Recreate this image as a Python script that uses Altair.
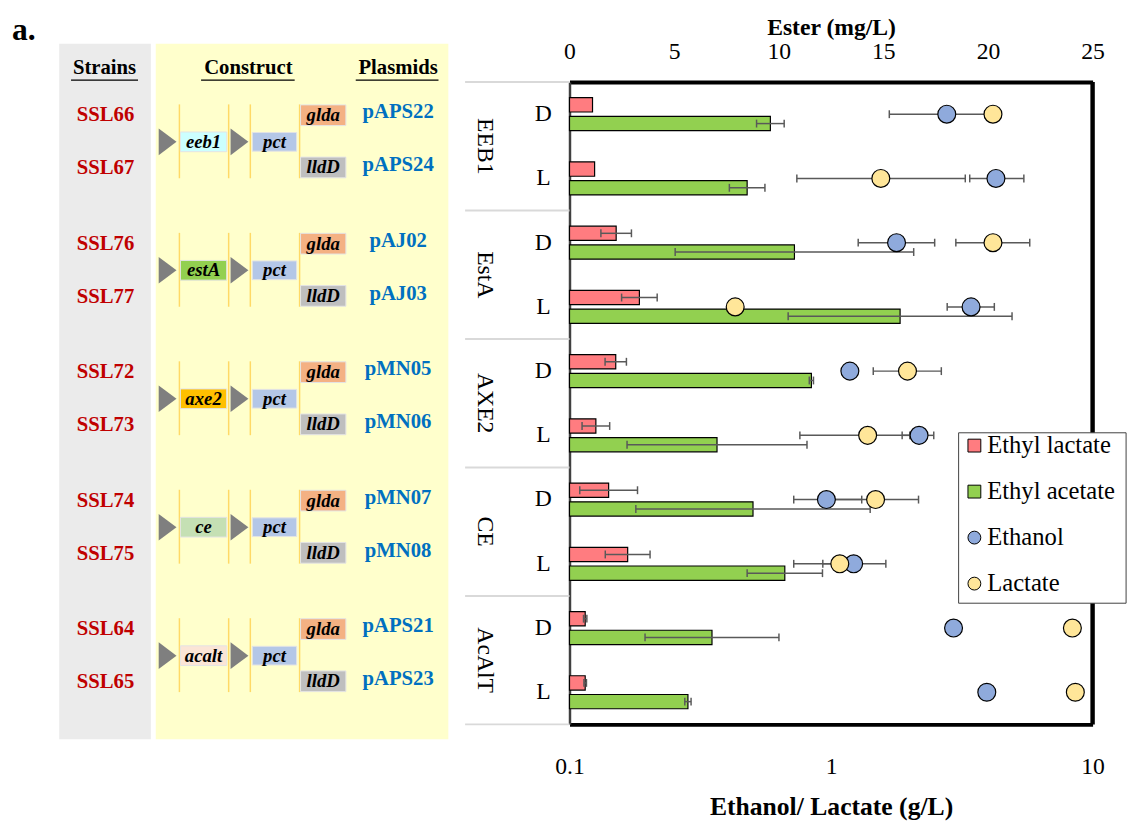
import altair as alt
import pandas as pd

# ---------------- data ----------------
groups = ["EEB1", "EstA", "AXE2", "CE", "AcAlT"]
isomers = ["D", "L"]
strains = ["SSL66", "SSL67", "SSL76", "SSL77", "SSL72", "SSL73", "SSL74", "SSL75", "SSL64", "SSL65"]
plasmids = ["pAPS22", "pAPS24", "pAJ02", "pAJ03", "pMN05", "pMN06", "pMN07", "pMN08", "pAPS21", "pAPS23"]
genes = ["eeb1", "estA", "axe2", "ce", "acalt"]
branch_genes = ["glda", "lldD"]
headers = ["Strains", "Construct", "Plasmids"]
ester_ticks = [0, 5, 10, 15, 20, 25]
conc_ticks = [0.1, 1, 10]
series = ["Ethyl lactate", "Ethyl acetate", "Ethanol", "Lactate"]

# ester (mg/L), order: EEB1 D, EEB1 L, EstA D, EstA L, AXE2 D, AXE2 L, CE D, CE L, AcAlT D, AcAlT L
ethyl_lactate = [1.1, 1.2, 2.23, 3.34, 2.21, 1.26, 1.87, 2.78, 0.75, 0.75]
ethyl_lactate_err = [0, 0, 0.73, 0.85, 0.51, 0.66, 1.38, 1.07, 0.08, 0.06]
ethyl_acetate = [9.6, 8.49, 10.75, 15.8, 11.56, 7.05, 8.77, 10.29, 6.81, 5.66]
ethyl_acetate_err = [0.66, 0.85, 5.7, 5.35, 0.1, 4.3, 5.6, 1.8, 3.2, 0.15]
# ethanol / lactate (g/L)
ethanol = [2.77, 4.27, 1.78, 3.43, 1.18, 2.17, 0.96, 1.22, 2.94, 3.94]
ethanol_lo = [1.67, 3.39, 1.27, 2.78, None, 1.87, 0.72, 0.93, None, None]
ethanol_hi = [3.87, 5.46, 2.49, 4.21, None, 2.47, 1.31, 1.62, None, None]
lactate = [4.16, 1.55, 4.16, 0.43, 1.96, 1.38, 1.48, 1.08, 8.37, 8.59]
lactate_lo = [None, 0.74, 3.00, None, 1.45, 0.76, 0.90, 0.72, None, None]
lactate_hi = [None, 3.26, 5.75, None, 2.64, 2.00, 2.16, 1.30, None, None]

# ---------------- styles ----------------
FONT = "Liberation Serif"
series_colors = ["#FF7C80", "#92D050", "#8FAADC", "#FFE699"]
series_shapes = ["square", "square", "circle", "circle"]
gene_colors = ["#CCFFFF", "#92D050", "#FFC000", "#C5E0B4", "#FBE5D6"]
branch_colors = ["#F4B183", "#BFBFBF"]
ERR = "#595959"
H = 652
W_RIGHT = 531
W_LEFT = 443
ROW = H / 10.0

rows = [f"{g} {i}" for g in groups for i in isomers]

# ---------------- right chart ----------------
y_axis = alt.Axis(title=None, labelExpr="split(datum.label, ' ')[1]", labelFont=FONT,
                  labelFontSize=24, labelColor="black", labelAlign="center",
                  labelBaseline="middle", labelPadding=27, ticks=False, grid=False,
                  domainColor="#404040", domainWidth=2.5)
y_scale = alt.Scale(domain=rows, paddingInner=0, paddingOuter=0)


def y_enc(band=None):
    if band is None:
        return alt.Y("row:N", scale=y_scale, axis=y_axis)
    return alt.Y("row:N", scale=y_scale, axis=y_axis, bandPosition=band)


ester_scale = alt.Scale(domain=[0, 25], nice=False, zero=True)
ester_axis = alt.Axis(orient="top", values=ester_ticks, title="Ester (mg/L)", titleFont=FONT,
                      titleFontSize=24, titleFontWeight="bold", titleColor="black",
                      titlePadding=0, labelFont=FONT, labelFontSize=24, labelColor="black",
                      labelPadding=19, ticks=False, grid=False, domainColor="black",
                      domainWidth=4, labelFlush=False, labelOverlap=False)
conc_scale = alt.Scale(type="log", domain=[0.1, 10], nice=False)
conc_axis = alt.Axis(orient="bottom", values=conc_ticks, format="~g",
                     title="Ethanol/ Lactate (g/L)", titleFont=FONT, titleFontSize=26,
                     titleFontWeight="bold", titleColor="black", titlePadding=15,
                     labelFont=FONT, labelFontSize=24, labelColor="black", labelPadding=31,
                     ticks=False, grid=False, domainColor="black", domainWidth=4,
                     labelFlush=False, labelOverlap=False)


def ex(field):
    return alt.X(field, type="quantitative", scale=ester_scale, axis=ester_axis)


def cx(field):
    return alt.X(field, type="quantitative", scale=conc_scale, axis=conc_axis)


color_scale = alt.Scale(domain=series, range=series_colors)
color_enc = alt.Color("series:N", scale=color_scale, legend=None)
shape_enc = alt.Shape("series:N", scale=alt.Scale(domain=series, range=series_shapes), legend=None)

ester_records = []
for k, r in enumerate(rows):
    for name, vals, errs in (("Ethyl lactate", ethyl_lactate, ethyl_lactate_err),
                             ("Ethyl acetate", ethyl_acetate, ethyl_acetate_err)):
        ester_records.append({"row": r, "series": name, "value": vals[k], "err": errs[k],
                              "lo": vals[k] - errs[k], "hi": vals[k] + errs[k]})
ester_df = pd.DataFrame(ester_records)

conc_records = []
for k, r in enumerate(rows):
    for name, vals, lo, hi in (("Ethanol", ethanol, ethanol_lo, ethanol_hi),
                               ("Lactate", lactate, lactate_lo, lactate_hi)):
        conc_records.append({"row": r, "series": name, "value": vals[k], "lo": lo[k], "hi": hi[k]})
conc_df = pd.DataFrame(conc_records)
conc_pts = conc_df[["row", "series", "value"]]
conc_err = conc_df.dropna(subset=["lo", "hi"])


def bar_layers(name, off):
    base = alt.Chart(ester_df).transform_filter(alt.datum.series == name)
    bars = base.mark_bar(height=14.5, yOffset=off, stroke="black", strokeWidth=1.2, opacity=1).encode(
        x=ex("value"), y=y_enc(), color=color_enc)
    errs = base.transform_filter(alt.datum.err > 0)
    rule = errs.mark_rule(yOffset=off, color=ERR, strokeWidth=1.5).encode(
        x=ex("lo"), x2="hi", y=y_enc())
    caps = errs.transform_fold(["lo", "hi"], as_=["end", "pos"]).mark_tick(
        yOffset=off, size=8, thickness=1.5, color=ERR, opacity=1).encode(x=ex("pos"), y=y_enc())
    return [bars, rule, caps]


group_df = pd.DataFrame({"row": rows[0::2], "label": groups})
sep_top = alt.Chart(group_df).mark_rule(color="#D9D9D9", strokeWidth=2).encode(
    x=alt.value(-106), x2=alt.value(0), y=y_enc(0))
sep_bottom = alt.Chart(pd.DataFrame({"row": rows[-1:]})).mark_rule(color="#D9D9D9", strokeWidth=2).encode(
    x=alt.value(-106), x2=alt.value(0), y=y_enc(1))
group_text = alt.Chart(group_df).mark_text(angle=90, font=FONT, fontSize=24, color="black",
                                           align="center", baseline="middle").encode(
    x=alt.value(-86), y=y_enc(1), text="label:N")
right_edge = alt.Chart(pd.DataFrame({"edge": [0]})).mark_rule(color="black", strokeWidth=4.5).encode(
    x=alt.X(datum=ester_ticks[-1], type="quantitative", scale=ester_scale, axis=ester_axis))

ester_layer = alt.layer(sep_top, sep_bottom, group_text,
                        *bar_layers("Ethyl lactate", -9.5), *bar_layers("Ethyl acetate", 9.5),
                        right_edge)

p_rule = alt.Chart(conc_err).mark_rule(color=ERR, strokeWidth=1.5).encode(
    x=cx("lo"), x2="hi", y=y_enc())
p_caps = alt.Chart(conc_err).transform_fold(["lo", "hi"], as_=["end", "pos"]).mark_tick(
    size=8, thickness=1.5, color=ERR, opacity=1).encode(x=cx("pos"), y=y_enc())
p_pts = alt.Chart(conc_pts).mark_point(filled=True, size=330, stroke="black", strokeWidth=1.2,
                                        opacity=1).encode(
    x=cx("value"), y=y_enc(), color=color_enc, shape=shape_enc)
conc_layer = alt.layer(p_rule, p_caps, p_pts)

# legend box (drawn with the series colour scale), placed in the plot's lower right
LEG = {"x0": 395, "x1": 565, "y0": 356, "y1": 529, "sym_x": 411, "lab_x": 424,
       "first": 369, "step": 46.7}
leg_layers = [alt.Chart(pd.DataFrame({"series": [series[0]]})).mark_rect(
    fill="white", stroke="#404040", strokeWidth=1).encode(
    x=alt.value(LEG["x0"]), x2=alt.value(LEG["x1"]), y=alt.value(LEG["y0"]), y2=alt.value(LEG["y1"]))]
for i, s in enumerate(series):
    item = alt.Chart(pd.DataFrame({"series": [s]}))
    yy = LEG["first"] + i * LEG["step"]
    leg_layers.append(item.mark_point(shape=series_shapes[i], filled=True, size=170, stroke="black",
                                      strokeWidth=1, opacity=1).encode(
        x=alt.value(LEG["sym_x"]), y=alt.value(yy), color=color_enc))
    leg_layers.append(item.mark_text(font=FONT, fontSize=25, color="black", align="left",
                                     baseline="middle").encode(
        x=alt.value(LEG["lab_x"]), y=alt.value(yy), text="series:N"))
legend_layer = alt.layer(*leg_layers)

right = alt.layer(ester_layer, conc_layer, legend_layer).resolve_scale(x="independent").properties(
    width=W_RIGHT, height=H)

# ---------------- left diagram ----------------
lx_scale = alt.Scale(domain=[10, 453], nice=False, zero=False)
ly_scale = alt.Scale(domain=[0, 10], reverse=True, nice=False, zero=False)


def lx(f):
    return alt.X(f, type="quantitative", scale=lx_scale, axis=None)


def ly(f):
    return alt.Y(f, type="quantitative", scale=ly_scale, axis=None)


def gc(g, px=0.0):
    # group centre (row units) plus a pixel offset
    return 2 * g + 1 - 0.07 + px / ROW


COLX = {"strain": 105, "tri": [168, 241], "gene": (181, 228), "pct": (254, 299),
        "branch": (303, 349), "plasmid": 402, "vlines": [180, 230, 252, 302],
        "gray": (58, 151), "yellow": (156, 453), "header": [104, 250, 402],
        "underline": [(70, 138), (202, 297), (359, 443)]}
PANEL = (-39 / ROW, (H + 15) / ROW)

bg_df = pd.DataFrame({"x": [COLX["gray"][0], COLX["yellow"][0]], "x2": [COLX["gray"][1], COLX["yellow"][1]],
                      "y": [PANEL[0]] * 2, "y2": [PANEL[1]] * 2, "kind": ["gray", "yellow"]})
bg = alt.Chart(bg_df).mark_rect().encode(
    x=lx("x"), x2="x2", y=ly("y"), y2="y2",
    fill=alt.Fill("kind:N", scale=alt.Scale(domain=["gray", "yellow"], range=["#EBEBEB", "#FFFFCC"]),
                  legend=None))

a_label = alt.Chart(pd.DataFrame({"t": ["a."], "x": [10], "y": [-53 / ROW]})).mark_text(
    font=FONT, fontSize=32, fontWeight="bold", align="left", baseline="middle", color="black").encode(
    x=lx("x"), y=ly("y"), text="t:N")

hdr_df = pd.DataFrame({"t": headers, "x": COLX["header"], "y": [-14 / ROW] * 3,
                       "u1": [u[0] for u in COLX["underline"]], "u2": [u[1] for u in COLX["underline"]],
                       "uy": [-2 / ROW] * 3})
hdr = alt.Chart(hdr_df).mark_text(font=FONT, fontSize=21, fontWeight="bold", color="black",
                                  align="center", baseline="middle").encode(
    x=lx("x"), y=ly("y"), text="t:N")
hdr_ul = alt.Chart(hdr_df).mark_rule(color="black", strokeWidth=1.5).encode(
    x=lx("u1"), x2="u2", y=ly("uy"))

lab_records = []
for k in range(10):
    g = k // 2
    s = -1 if k % 2 == 0 else 1
    lab_records.append({"strain": strains[k], "plasmid": plasmids[k],
                        "ys": gc(g, s * 27), "yp": gc(g, -30 if s < 0 else 24)})
lab_df = pd.DataFrame(lab_records)
lab_df["xs"] = COLX["strain"]
lab_df["xp"] = COLX["plasmid"]
strain_txt = alt.Chart(lab_df).mark_text(font=FONT, fontSize=21, fontWeight="bold", color="#C00000",
                                         align="center", baseline="middle").encode(
    x=lx("xs"), y=ly("ys"), text="strain:N")
plasmid_txt = alt.Chart(lab_df).mark_text(font=FONT, fontSize=21, fontWeight="bold", color="#0070C0",
                                          align="center", baseline="middle").encode(
    x=lx("xp"), y=ly("yp"), text="plasmid:N")

vl_records = []
tri_records = []
box_records = []
for g in range(5):
    for vx in COLX["vlines"]:
        vl_records.append({"x": vx, "y": gc(g, -38), "y2": gc(g, 37)})
    for tx in COLX["tri"]:
        tri_records.append({"x": tx, "y": gc(g)})
    box_records.append({"x": COLX["gene"][0], "x2": COLX["gene"][1], "y": gc(g, -10), "y2": gc(g, 10),
                        "label": genes[g], "kind": genes[g]})
    box_records.append({"x": COLX["pct"][0], "x2": COLX["pct"][1], "y": gc(g, -9.5), "y2": gc(g, 9.5),
                        "label": "pct", "kind": "pct"})
    box_records.append({"x": COLX["branch"][0], "x2": COLX["branch"][1], "y": gc(g, -37.5),
                        "y2": gc(g, -16.5), "label": branch_genes[0], "kind": branch_genes[0]})
    box_records.append({"x": COLX["branch"][0], "x2": COLX["branch"][1], "y": gc(g, 15.5),
                        "y2": gc(g, 36.5), "label": branch_genes[1], "kind": branch_genes[1]})
vl_df = pd.DataFrame(vl_records)
tri_df = pd.DataFrame(tri_records)
box_df = pd.DataFrame(box_records)
box_df["xm"] = (box_df["x"] + box_df["x2"]) / 2
box_df["ym"] = (box_df["y"] + box_df["y2"]) / 2

vlines = alt.Chart(vl_df).mark_rule(color="#FFD966", strokeWidth=1.5).encode(
    x=lx("x"), y=ly("y"), y2="y2")
tris = alt.Chart(tri_df).mark_point(shape="M -0.67 -1 L 0.67 0 L -0.67 1 Z", size=729, filled=True,
                                    color="#7F7F7F", opacity=1).encode(x=lx("x"), y=ly("y"))
box_kinds = genes + ["pct"] + branch_genes
box_colors = gene_colors + ["#B4C7E7"] + branch_colors
boxes = alt.Chart(box_df).mark_rect(stroke="#E4E4E4", strokeWidth=1).encode(
    x=lx("x"), x2="x2", y=ly("y"), y2="y2",
    fill=alt.Fill("kind:N", scale=alt.Scale(domain=box_kinds, range=box_colors), legend=None))
box_txt = alt.Chart(box_df).mark_text(font=FONT, fontSize=19, fontWeight="bold", fontStyle="italic",
                                      color="black", align="center", baseline="middle").encode(
    x=lx("xm"), y=ly("ym"), text="label:N")

left = alt.layer(bg, a_label, hdr, hdr_ul, strain_txt, plasmid_txt, vlines, tris, boxes, box_txt).resolve_scale(
    fill="independent").properties(width=W_LEFT, height=H)

chart = alt.hconcat(left, right, spacing=16).resolve_scale(
    x="independent", y="independent", fill="independent", color="independent",
    shape="independent").properties(
    padding={"left": 4, "top": 0, "right": 5, "bottom": 5}).configure(
    font=FONT).configure_view(stroke=None).configure_axis(
    labelFont=FONT, titleFont=FONT)

chart.save("out.html", embed_options={"renderer": "svg", "actions": False})
